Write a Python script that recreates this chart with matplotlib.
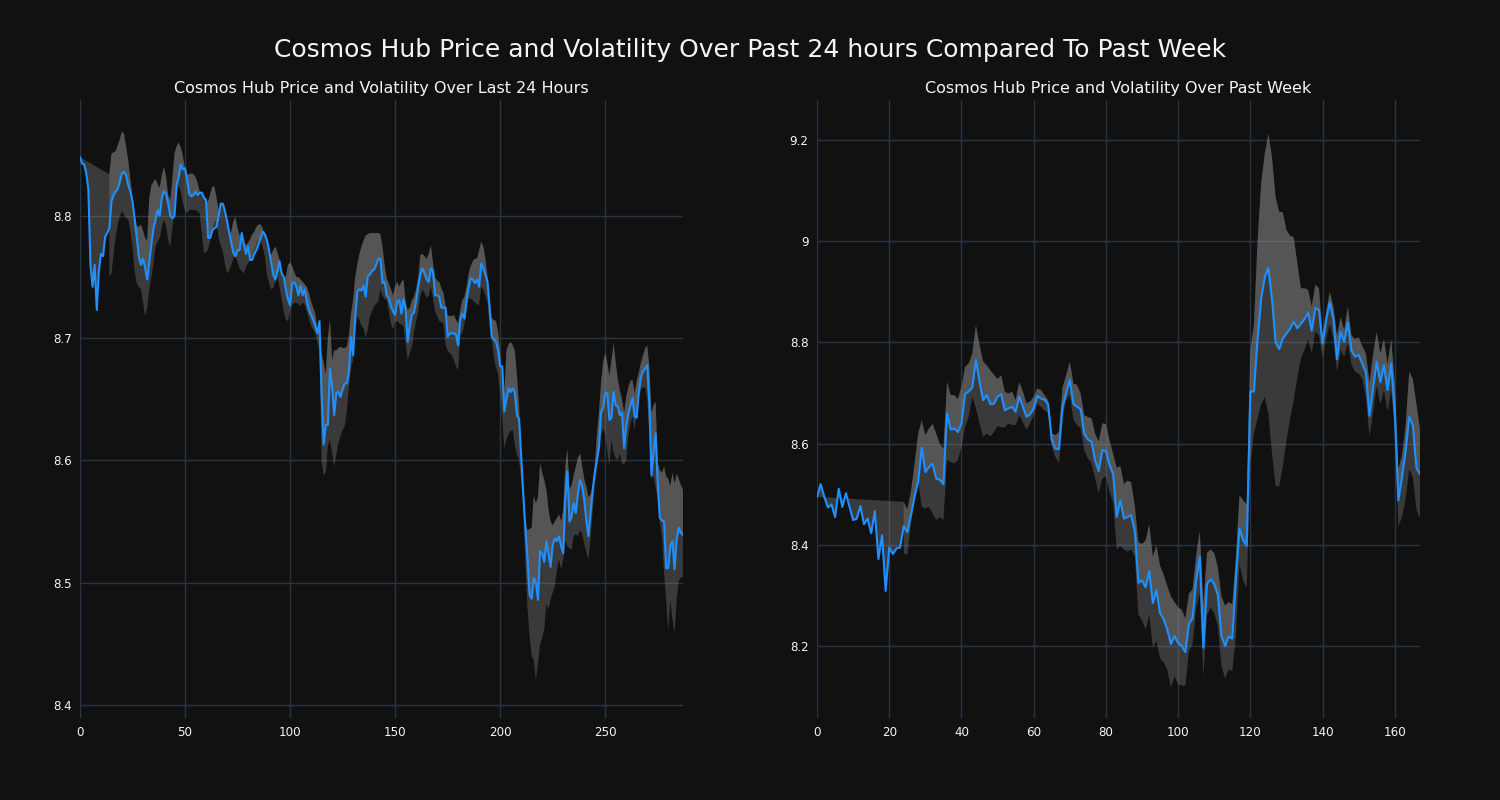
import numpy as np
import matplotlib
matplotlib.use("Agg")
import matplotlib.pyplot as plt
from matplotlib.ticker import FuncFormatter, MultipleLocator

NAN = np.nan

# ---------------- Last 24 hours (5-minute steps) ----------------
day_price = [
    8.848, 8.843, 8.842, 8.835, 8.822, 8.760, 8.742, 8.760, 8.723, 8.755,
    8.769, 8.767, 8.783, 8.786, 8.790, 8.812, 8.817, 8.820, 8.822, 8.828,
    8.835, 8.836, 8.833, 8.825, 8.820, 8.812, 8.798, 8.783, 8.767, 8.760,
    8.765, 8.758, 8.748, 8.762, 8.777, 8.790, 8.797, 8.805, 8.800, 8.815,
    8.820, 8.818, 8.810, 8.800, 8.798, 8.800, 8.825, 8.832, 8.842, 8.838,
    8.839, 8.830, 8.818, 8.816, 8.817, 8.820, 8.817, 8.819, 8.819, 8.815,
    8.813, 8.782, 8.782, 8.788, 8.790, 8.791, 8.800, 8.810, 8.810, 8.804,
    8.796, 8.787, 8.778, 8.770, 8.767, 8.772, 8.772, 8.786, 8.777, 8.769,
    8.775, 8.764, 8.764, 8.769, 8.772, 8.777, 8.782, 8.787, 8.785, 8.780,
    8.772, 8.762, 8.752, 8.748, 8.755, 8.763, 8.753, 8.750, 8.740, 8.732,
    8.727, 8.745, 8.746, 8.742, 8.735, 8.743, 8.735, 8.740, 8.730, 8.723,
    8.719, 8.715, 8.710, 8.704, 8.714, 8.655, 8.613, 8.629, 8.629, 8.675,
    8.660, 8.637, 8.655, 8.656, 8.652, 8.658, 8.663, 8.663, 8.672, 8.701,
    8.686, 8.716, 8.738, 8.740, 8.739, 8.743, 8.734, 8.751, 8.752, 8.755,
    8.756, 8.760, 8.765, 8.765, 8.745, 8.746, 8.735, 8.733, 8.726, 8.722,
    8.719, 8.730, 8.731, 8.720, 8.732, 8.723, 8.697, 8.710, 8.719, 8.721,
    8.730, 8.742, 8.752, 8.757, 8.753, 8.748, 8.746, 8.757, 8.755, 8.735,
    8.735, 8.734, 8.725, 8.725, 8.725, 8.701, 8.704, 8.704, 8.704, 8.703,
    8.694, 8.715, 8.720, 8.716, 8.731, 8.741, 8.749, 8.748, 8.745, 8.748,
    8.742, 8.761, 8.757, 8.752, 8.746, 8.725, 8.701, 8.699, 8.697, 8.690,
    8.677, 8.677, 8.640, 8.650, 8.659, 8.656, 8.659, 8.655, 8.637, 8.634,
    8.603, 8.573, 8.545, 8.520, 8.490, 8.487, 8.504, 8.500, 8.486, 8.526,
    8.524, 8.517, 8.534, 8.524, 8.513, 8.531, 8.536, 8.534, 8.538, 8.530,
    8.524, 8.568, 8.591, 8.550, 8.554, 8.565, 8.557, 8.573, 8.584, 8.579,
    8.568, 8.551, 8.538, 8.557, 8.575, 8.590, 8.600, 8.610, 8.639, 8.643,
    8.655, 8.655, 8.633, 8.635, 8.656, 8.645, 8.644, 8.637, 8.639, 8.610,
    8.628, 8.638, 8.645, 8.651, 8.636, 8.635, 8.656, 8.668, 8.673, 8.675,
    8.678, 8.647, 8.588, 8.606, 8.622, 8.581, 8.553, 8.551, 8.550, 8.512,
    8.512, 8.530, 8.534, 8.511, 8.535, 8.545, 8.541, 8.539,
]

day_upper = [NAN] * 14 + [
    8.834, 8.851, 8.852, 8.853, 8.858, 8.863,
    8.869, 8.867, 8.856, 8.845, 8.830, 8.815, 8.802, 8.792, 8.791, 8.793,
    8.788, 8.782, 8.780, 8.815, 8.825, 8.828, 8.830, 8.826, 8.823, 8.834,
    8.840, 8.832, 8.817, 8.813, 8.830, 8.851, 8.857, 8.860, 8.856, 8.849,
    8.838, 8.834, 8.834, 8.835, 8.834, 8.832, 8.827, 8.820, 8.812, 8.808,
    8.810, 8.812, 8.818, 8.824, 8.824, 8.815, 8.805, 8.797, 8.785, 8.786,
    8.785, 8.784, 8.787, 8.796, 8.799, 8.790, 8.784, 8.781, 8.779, 8.776,
    8.778, 8.781, 8.785, 8.787, 8.791, 8.793, 8.793, 8.790, 8.782, 8.772,
    8.765, 8.768, 8.772, 8.775, 8.770, 8.764, 8.754, 8.750, 8.750, 8.760,
    8.762, 8.759, 8.754, 8.750, 8.750, 8.748, 8.746, 8.744, 8.742, 8.737,
    8.730, 8.725, 8.720, 8.708, 8.698, 8.688, 8.680, 8.671, 8.700, 8.715,
    8.682, 8.690, 8.690, 8.692, 8.693, 8.692, 8.692, 8.693, 8.702, 8.720,
    8.731, 8.750, 8.760, 8.769, 8.775, 8.780, 8.784, 8.785, 8.786, 8.786,
    8.786, 8.786, 8.786, 8.785, 8.775, 8.760, 8.749, 8.745, 8.740, 8.735,
    8.742, 8.746, 8.742, 8.746, 8.748, 8.730, 8.723, 8.725, 8.731, 8.734,
    8.740, 8.750, 8.768, 8.769, 8.767, 8.765, 8.769, 8.776, 8.762, 8.750,
    8.747, 8.746, 8.741, 8.737, 8.727, 8.719, 8.718, 8.718, 8.719, 8.715,
    8.712, 8.723, 8.731, 8.734, 8.742, 8.753, 8.759, 8.763, 8.765, 8.765,
    8.772, 8.779, 8.775, 8.765, 8.750, 8.730, 8.716, 8.715, 8.714, 8.706,
    8.688, 8.660, 8.655, 8.690, 8.695, 8.697, 8.694, 8.690, 8.669, 8.645,
    8.606, 8.570, 8.550, 8.543, 8.544, 8.545, 8.571, 8.565, 8.570, 8.598,
    8.590, 8.584, 8.576, 8.560, 8.550, 8.547, 8.550, 8.553, 8.556, 8.550,
    8.560, 8.595, 8.610, 8.576, 8.580, 8.588, 8.595, 8.602, 8.606, 8.596,
    8.585, 8.579, 8.570, 8.572, 8.578, 8.595, 8.620, 8.639, 8.663, 8.680,
    8.688, 8.680, 8.669, 8.682, 8.696, 8.680, 8.666, 8.657, 8.650, 8.639,
    8.652, 8.660, 8.665, 8.666, 8.655, 8.665, 8.672, 8.680, 8.686, 8.692,
    8.694, 8.677, 8.639, 8.645, 8.648, 8.598, 8.592, 8.590, 8.595, 8.587,
    8.585, 8.579, 8.590, 8.581, 8.589, 8.585, 8.580, 8.576,
]

day_lower = [NAN] * 14 + [
    8.750, 8.753, 8.769, 8.783, 8.793, 8.800,
    8.804, 8.801, 8.798, 8.797, 8.788, 8.775, 8.755, 8.745, 8.742, 8.740,
    8.730, 8.718, 8.725, 8.740, 8.750, 8.762, 8.775, 8.779, 8.782, 8.791,
    8.797, 8.792, 8.780, 8.775, 8.790, 8.805, 8.820, 8.825, 8.820, 8.810,
    8.805, 8.802, 8.805, 8.805, 8.805, 8.805, 8.804, 8.802, 8.785, 8.770,
    8.770, 8.773, 8.780, 8.788, 8.797, 8.794, 8.782, 8.776, 8.771, 8.761,
    8.753, 8.755, 8.760, 8.765, 8.768, 8.762, 8.757, 8.755, 8.753, 8.758,
    8.761, 8.764, 8.768, 8.772, 8.778, 8.781, 8.780, 8.774, 8.767, 8.752,
    8.745, 8.740, 8.741, 8.746, 8.750, 8.742, 8.732, 8.722, 8.715, 8.714,
    8.722, 8.727, 8.729, 8.729, 8.728, 8.726, 8.729, 8.727, 8.722, 8.716,
    8.710, 8.707, 8.704, 8.697, 8.690, 8.600, 8.588, 8.590, 8.612, 8.617,
    8.606, 8.595, 8.605, 8.614, 8.620, 8.625, 8.628, 8.640, 8.660, 8.675,
    8.682, 8.705, 8.718, 8.715, 8.710, 8.708, 8.700, 8.707, 8.718, 8.722,
    8.726, 8.728, 8.730, 8.740, 8.735, 8.732, 8.731, 8.722, 8.712, 8.707,
    8.713, 8.714, 8.712, 8.711, 8.710, 8.697, 8.682, 8.688, 8.693, 8.705,
    8.714, 8.722, 8.735, 8.740, 8.737, 8.733, 8.735, 8.742, 8.733, 8.722,
    8.718, 8.714, 8.713, 8.712, 8.695, 8.690, 8.688, 8.686, 8.682, 8.677,
    8.674, 8.703, 8.704, 8.712, 8.722, 8.733, 8.732, 8.731, 8.729, 8.728,
    8.727, 8.742, 8.740, 8.735, 8.729, 8.710, 8.699, 8.685, 8.676, 8.671,
    8.655, 8.635, 8.610, 8.617, 8.622, 8.624, 8.625, 8.612, 8.605, 8.600,
    8.585, 8.560, 8.514, 8.480, 8.456, 8.440, 8.437, 8.420, 8.434, 8.450,
    8.455, 8.462, 8.483, 8.478, 8.486, 8.492, 8.497, 8.510, 8.519, 8.511,
    8.519, 8.535, 8.530, 8.528, 8.527, 8.538, 8.540, 8.538, 8.543, 8.540,
    8.532, 8.525, 8.519, 8.535, 8.558, 8.580, 8.590, 8.605, 8.620, 8.626,
    8.622, 8.608, 8.595, 8.617, 8.606, 8.602, 8.600, 8.606, 8.597, 8.597,
    8.600, 8.620, 8.630, 8.636, 8.625, 8.640, 8.650, 8.658, 8.660, 8.660,
    8.650, 8.622, 8.585, 8.587, 8.578, 8.568, 8.550, 8.538, 8.508, 8.486,
    8.461, 8.486, 8.470, 8.459, 8.486, 8.502, 8.504, 8.505,
]

# ---------------- Past week (hourly steps) ----------------
week_price = [
    8.495, 8.520, 8.495, 8.474, 8.480, 8.455, 8.511, 8.475, 8.502, 8.475,
    8.449, 8.452, 8.477, 8.441, 8.452, 8.423, 8.467, 8.372, 8.419, 8.309,
    8.395, 8.382, 8.393, 8.395, 8.437, 8.425, 8.459, 8.495, 8.525, 8.592,
    8.544, 8.554, 8.560, 8.531, 8.529, 8.520, 8.660, 8.628, 8.630, 8.623,
    8.640, 8.698, 8.703, 8.711, 8.765, 8.722, 8.686, 8.696, 8.678, 8.679,
    8.693, 8.698, 8.666, 8.670, 8.673, 8.663, 8.693, 8.673, 8.653, 8.658,
    8.670, 8.694, 8.689, 8.687, 8.678, 8.607, 8.590, 8.589, 8.673, 8.700,
    8.726, 8.678, 8.673, 8.668, 8.620, 8.608, 8.604, 8.567, 8.546, 8.587,
    8.586, 8.558, 8.540, 8.455, 8.488, 8.452, 8.455, 8.459, 8.427, 8.325,
    8.330, 8.316, 8.348, 8.285, 8.310, 8.265, 8.253, 8.233, 8.204, 8.220,
    8.206, 8.200, 8.188, 8.244, 8.255, 8.330, 8.377, 8.197, 8.323, 8.332,
    8.323, 8.301, 8.220, 8.200, 8.219, 8.215, 8.333, 8.432, 8.409, 8.398,
    8.703, 8.703, 8.807, 8.886, 8.929, 8.947, 8.886, 8.800, 8.787, 8.808,
    8.818, 8.827, 8.841, 8.828, 8.837, 8.846, 8.859, 8.823, 8.868, 8.864,
    8.798, 8.844, 8.879, 8.846, 8.767, 8.821, 8.801, 8.839, 8.784, 8.772,
    8.775, 8.758, 8.741, 8.655, 8.710, 8.762, 8.721, 8.755, 8.706, 8.758,
    8.663, 8.488, 8.534, 8.584, 8.653, 8.636, 8.552, 8.540,
]

week_upper = [NAN] * 24 + [
    8.485, 8.470, 8.505, 8.560, 8.620, 8.646,
    8.617, 8.630, 8.639, 8.620, 8.600, 8.590, 8.722, 8.696, 8.696, 8.688,
    8.712, 8.752, 8.758, 8.778, 8.834, 8.795, 8.762, 8.755, 8.745, 8.736,
    8.728, 8.735, 8.703, 8.699, 8.703, 8.686, 8.722, 8.703, 8.680, 8.683,
    8.693, 8.709, 8.706, 8.696, 8.686, 8.620, 8.617, 8.623, 8.712, 8.735,
    8.762, 8.719, 8.716, 8.699, 8.656, 8.653, 8.650, 8.620, 8.604, 8.640,
    8.639, 8.607, 8.580, 8.552, 8.556, 8.520, 8.527, 8.524, 8.477, 8.405,
    8.402, 8.409, 8.441, 8.377, 8.398, 8.359, 8.341, 8.319, 8.298, 8.287,
    8.276, 8.272, 8.254, 8.304, 8.312, 8.380, 8.427, 8.283, 8.384, 8.391,
    8.384, 8.355, 8.298, 8.280, 8.287, 8.283, 8.377, 8.498, 8.488, 8.480,
    8.785, 8.836, 9.001, 9.115, 9.173, 9.212, 9.166, 9.087, 9.058, 9.057,
    9.022, 9.011, 9.008, 8.958, 8.907, 8.907, 8.904, 8.871, 8.914, 8.907,
    8.814, 8.861, 8.900, 8.871, 8.814, 8.850, 8.825, 8.871, 8.814, 8.807,
    8.810, 8.793, 8.778, 8.721, 8.778, 8.821, 8.778, 8.807, 8.757, 8.807,
    8.721, 8.549, 8.577, 8.635, 8.742, 8.728, 8.678, 8.628,
]

week_lower = [NAN] * 24 + [
    8.383, 8.380, 8.440, 8.488, 8.528, 8.475,
    8.472, 8.475, 8.462, 8.449, 8.455, 8.449, 8.567, 8.564, 8.561, 8.567,
    8.594, 8.633, 8.653, 8.693, 8.670, 8.640, 8.614, 8.620, 8.614, 8.623,
    8.635, 8.632, 8.632, 8.640, 8.637, 8.637, 8.656, 8.643, 8.627, 8.640,
    8.656, 8.679, 8.673, 8.666, 8.660, 8.594, 8.574, 8.561, 8.653, 8.686,
    8.696, 8.647, 8.637, 8.630, 8.587, 8.571, 8.561, 8.531, 8.502, 8.531,
    8.535, 8.505, 8.484, 8.391, 8.398, 8.391, 8.387, 8.391, 8.377, 8.262,
    8.251, 8.233, 8.262, 8.197, 8.211, 8.176, 8.168, 8.154, 8.118, 8.140,
    8.125, 8.122, 8.122, 8.190, 8.204, 8.276, 8.305, 8.140, 8.262, 8.276,
    8.265, 8.240, 8.161, 8.136, 8.154, 8.151, 8.219, 8.362, 8.330, 8.316,
    8.560, 8.620, 8.650, 8.678, 8.692, 8.660, 8.580, 8.516, 8.516, 8.556,
    8.606, 8.650, 8.685, 8.730, 8.768, 8.785, 8.807, 8.778, 8.821, 8.814,
    8.771, 8.807, 8.836, 8.807, 8.742, 8.785, 8.771, 8.800, 8.757, 8.742,
    8.739, 8.728, 8.692, 8.613, 8.663, 8.714, 8.678, 8.706, 8.663, 8.706,
    8.628, 8.437, 8.455, 8.491, 8.549, 8.534, 8.470, 8.452,
]

main_title = "Cosmos Hub Price and Volatility Over Past 24 hours Compared To Past Week"
left_title = "Cosmos Hub Price and Volatility Over Last 24 Hours"
right_title = "Cosmos Hub Price and Volatility Over Past Week"

BG = "#111111"
GRID = "#283442"
TXT = "#f2f5fa"
LINE = "#1e90ff"
BAND = "#8a8a8a"
BAND_ALPHA = 0.34


def draw(ax, price, upper, lower, title, xstep, ystep, ylim):
    p = np.asarray(price, float)
    u = np.asarray(upper, float)
    lo = np.asarray(lower, float)
    x = np.arange(len(p))
    m = ~np.isnan(u)
    xu, uu, lu = x[m], u[m], lo[m]
    # band between upper and lower
    ax.fill(np.r_[xu, xu[::-1]], np.r_[uu, lu[::-1]], color=BAND,
            alpha=BAND_ALPHA, lw=0, zorder=2)
    # band between upper and price
    ax.fill(np.r_[xu, x[::-1]], np.r_[uu, p[::-1]], color=BAND,
            alpha=BAND_ALPHA, lw=0, zorder=2)
    ax.plot(x, p, color=LINE, lw=1.5, zorder=3)

    ax.set_facecolor(BG)
    ax.set_xlim(0, len(p) - 1)
    ax.set_ylim(*ylim)
    ax.xaxis.set_major_locator(MultipleLocator(xstep))
    ax.yaxis.set_major_locator(MultipleLocator(ystep))
    ax.yaxis.set_major_formatter(FuncFormatter(lambda v, _: f"{round(v, 3):g}"))
    ax.grid(True, color=GRID, lw=1.0)
    ax.set_axisbelow(True)
    for s in ax.spines.values():
        s.set_visible(False)
    ax.tick_params(colors=TXT, labelsize=8.6, length=0, pad=6)
    ax.set_title(title, color=TXT, fontsize=11.5, pad=5)


fig = plt.figure(figsize=(15, 8), dpi=100, facecolor=BG)
ax1 = fig.add_axes([0.0533, 0.1025, 0.402, 0.7725])
ax2 = fig.add_axes([0.5447, 0.1025, 0.402, 0.7725])

draw(ax1, day_price, day_upper, day_lower, left_title, 50, 0.1, (8.3894, 8.8948))
draw(ax2, week_price, week_upper, week_lower, right_title, 20, 0.2, (8.058, 9.279))

fig.suptitle(main_title, color=TXT, fontsize=18.0, y=0.9375, va="center")

fig.savefig("out.png", dpi=100, facecolor=BG)
